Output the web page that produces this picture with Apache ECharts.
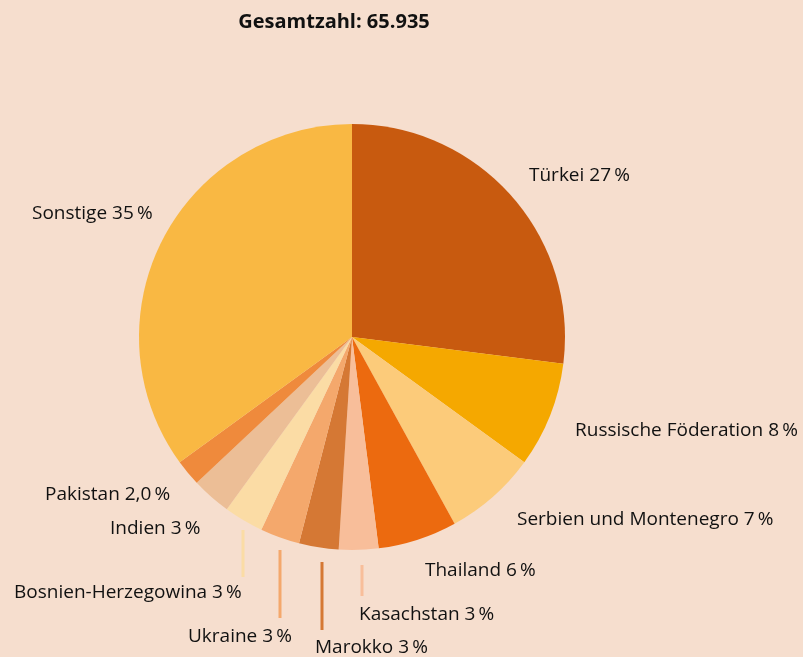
<!DOCTYPE html>
<html>
<head>
<meta charset="utf-8">
<script src="https://cdn.jsdelivr.net/npm/echarts@6/dist/echarts.min.js"></script>
<style>
  html, body { margin: 0; padding: 0; background: #f6dece; }
  #chart { width: 803px; height: 657px; }
</style>
</head>
<body>
<div id="chart"></div>
<script>
// Herkunftsländer, Anteile in Prozent (im Uhrzeigersinn ab 12 Uhr)
const countries = ['Türkei', 'Russische Föderation', 'Serbien und Montenegro', 'Thailand', 'Kasachstan',
  'Marokko', 'Ukraine', 'Bosnien-Herzegowina', 'Indien', 'Pakistan', 'Sonstige'];
const shares = [27, 8, 7, 6, 3, 3, 3, 3, 3, 2, 35];
const shareLabels = ['27', '8', '7', '6', '3', '3', '3', '3', '3', '2,0', '35'];
const colors = ['#c85a0f', '#f5a800', '#fccb7a', '#ec6a0f', '#f8be9a',
  '#d57834', '#f4a86c', '#fbdca5', '#ecbe96', '#ef8a3c', '#f9b843'];
const total = '65.935';

// Lage der Beschriftungen (linker Rand, vertikale Mitte)
const labelPos = [
  [529, 176], [575, 431], [517, 520], [425, 571], [359, 615],
  [315, 648], [188, 637], [14, 593], [110, 529], [45, 495], [32, 214]
];
// kurze senkrechte Striche unter den kleinen Segmenten
const tickLines = {
  4: [[362, 565], [362, 580], [362, 596]],
  5: [[322, 562], [322, 596], [322, 630]],
  6: [[280, 550], [280, 584], [280, 618]],
  7: [[243, 530], [243, 553], [243, 577]]
};

const chart = echarts.init(document.getElementById('chart'));

chart.setOption({
  backgroundColor: '#f6dece',
  animation: false,
  title: {
    text: 'Gesamtzahl: ' + total,
    left: 329,
    top: 7,
    textAlign: 'center',
    textStyle: {
      fontFamily: 'Open Sans',
      fontWeight: 'bold',
      fontSize: 20,
      color: '#111'
    }
  },
  series: [{
    type: 'pie',
    center: [352, 337],
    radius: 213,
    startAngle: 90,
    clockwise: true,
    avoidLabelOverlap: false,
    data: countries.map((c, i) => ({
      name: c,
      value: shares[i],
      itemStyle: { color: colors[i] },
      labelLine: {
        show: !!tickLines[i],
        lineStyle: { color: colors[i], width: 3 }
      }
    })),
    label: {
      show: true,
      position: 'outside',
      formatter: p => p.name + ' ' + shareLabels[p.dataIndex] + '\u2009%',
      fontFamily: 'Open Sans',
      fontSize: 19,
      color: '#111'
    },
    labelLine: { smooth: false },
    labelLayout: p => {
      const pos = labelPos[p.dataIndex];
      const out = { x: pos[0], y: pos[1], align: 'left', verticalAlign: 'middle' };
      if (tickLines[p.dataIndex]) out.labelLinePoints = tickLines[p.dataIndex];
      return out;
    }
  }]
});
</script>
</body>
</html>
